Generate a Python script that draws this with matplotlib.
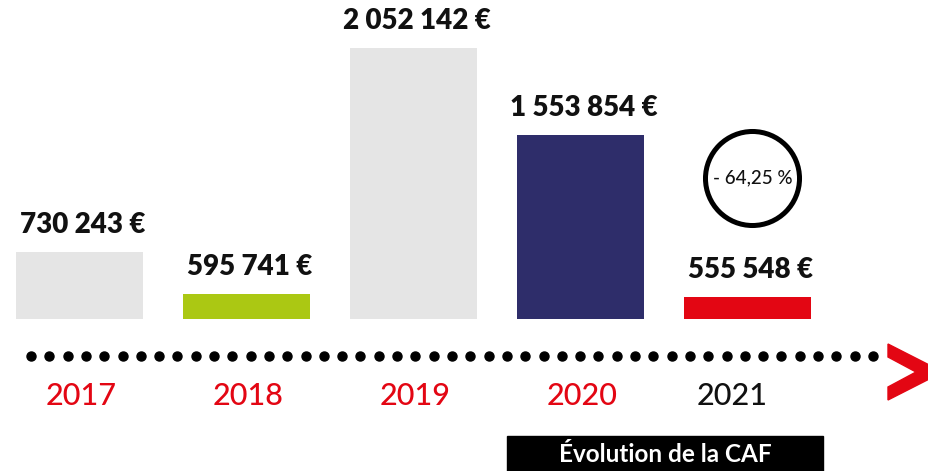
import numpy as np
import matplotlib.pyplot as plt
from matplotlib.patches import Polygon, Rectangle

# data
years = ['2017', '2018', '2019', '2020', '2021']
values = ['730 243 €', '595 741 €', '2 052 142 €', '1 553 854 €', '555 548 €']
# displayed bar heights (the infographic is not to scale)
bar_heights = [67, 25, 271, 184, 22]
colors = ['#e5e5e5', '#abc813', '#e5e5e5', '#2e2d6a', '#e30613']
year_colors = ['#e30613', '#e30613', '#e30613', '#e30613', '#111111']
change = '- 64,25 %'
caption = 'Évolution de la CAF'

W, H = 929, 471
fig = plt.figure(figsize=(W / 100, H / 100), dpi=100)
ax = fig.add_axes([0, 0, 1, 1])
ax.set_xlim(-79.5 / 167, (W - 79.5) / 167)
ax.set_ylim(-152, 319)
ax.axis('off')

def px(x, y):
    # pixel position (from top-left) -> figure fraction
    return x / W, 1 - y / H

x = np.arange(len(years))
ax.bar(x, bar_heights, width=127 / 167, color=colors)
for i in x:
    ax.text(i + 0.02, bar_heights[i] + 27, values[i], ha='center', va='center',
            fontsize=20, fontweight='heavy', family='Lato', color='#111111')
    shift = -0.09 if i == len(x) - 1 else 0.01
    ax.text(i + shift, -77, years[i], ha='center', va='center',
            fontsize=22, fontweight='medium', family='Lato', color=year_colors[i])

# dotted timeline
dx = np.linspace(31, 873, 47)
fx, fy = px(dx, 356)
ax.plot(fx, np.full_like(fx, fy), 'o', color='black', markersize=6.5,
        transform=fig.transFigure, clip_on=False)

# red chevron
chev = [(888, 344), (943, 372), (888, 400), (888, 387), (916, 372), (888, 357)]
ax.add_patch(Polygon([px(a, b) for a, b in chev], closed=True, color='#e30613',
                     transform=fig.transFigure, clip_on=False))

# circle with the change
cx, cy = px(752.5, 178)
ax.plot([cx], [cy], 'o', markersize=67.7, markerfacecolor='none',
        markeredgecolor='black', markeredgewidth=3.6, transform=fig.transFigure)
ax.text(cx, cy, change, ha='center', va='center', fontsize=13.5,
        fontweight='medium', family='Lato', color='#111111',
        transform=fig.transFigure)

# caption box
bx, by = px(507, 471)
ax.add_patch(Rectangle((bx, by), 316 / W, 35 / H, color='black',
                       transform=fig.transFigure, clip_on=False))
tx, ty = px(665, 455)
ax.text(tx, ty, caption, ha='center', va='center', fontsize=17.5,
        fontweight='bold', family='Lato', color='white', transform=fig.transFigure)

plt.savefig('out.png', dpi=100)
